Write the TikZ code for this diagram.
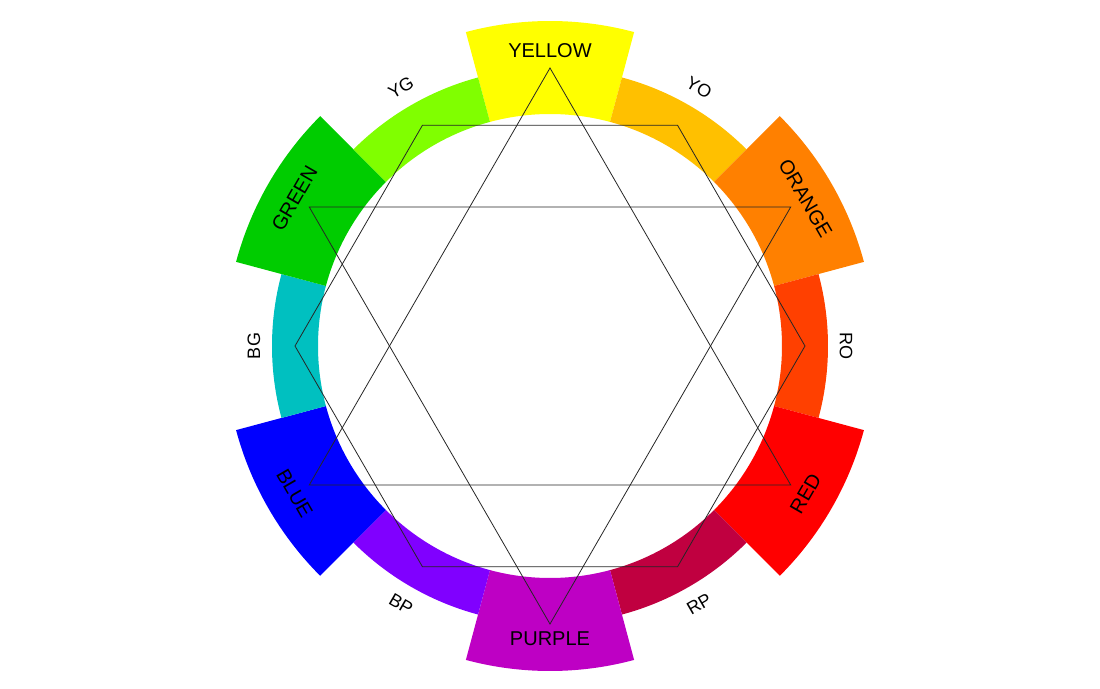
\documentclass[tikz,border=0pt]{standalone}
\usepackage{fontspec}
\setmainfont{Liberation Sans}
\definecolor{cY}{HTML}{FFFF00}
\definecolor{cYO}{HTML}{FFC000}
\definecolor{cO}{HTML}{FF8000}
\definecolor{cRO}{HTML}{FF4000}
\definecolor{cR}{HTML}{FF0000}
\definecolor{cRP}{HTML}{C00040}
\definecolor{cP}{HTML}{BE00C4}
\definecolor{cBP}{HTML}{8000FF}
\definecolor{cB}{HTML}{0000FF}
\definecolor{cBG}{HTML}{00C0C0}
\definecolor{cG}{HTML}{00CC00}
\definecolor{cYG}{HTML}{80FF00}
\begin{document}
\begin{tikzpicture}[x=1pt,y=1pt,
  biglabel/.style={inner sep=0pt, font=\fontsize{20}{24}\selectfont},
  smalllabel/.style={inner sep=0pt, font=\fontsize{18}{22}\selectfont},
  starline/.style={draw=black!85, line width=0.8pt, line join=miter}]
\useasboundingbox (-550,-342) rectangle (550,346);
\def\rin{232}
\foreach \a/\r/\c [evaluate=\a as \s using \a-15, evaluate=\a as \e using \a+15] in
  {90/325/cY, 60/278/cYO, 30/325/cO, 0/278/cRO, -30/325/cR, -60/278/cRP,
   -90/325/cP, -120/278/cBP, -150/325/cB, 180/278/cBG, 150/325/cG, 120/278/cYG}
  \fill[\c] (\s:\rin) -- (\s:\r) arc[start angle=\s, end angle=\e, radius=\r]
     -- (\e:\rin) arc[start angle=\e, end angle=\s, radius=\rin] -- cycle;
% star of David vertices
\coordinate (t90) at (90:278);
\coordinate (t210) at (210:278);
\coordinate (t330) at (330:278);
\coordinate (t30) at (30:278);
\coordinate (t150) at (150:278);
\coordinate (t270) at (270:278);
% hexagon vertices
\coordinate (h0) at (0:255);
\coordinate (h60) at (60:255);
\coordinate (h120) at (120:255);
\coordinate (h180) at (180:255);
\coordinate (h240) at (240:255);
\coordinate (h300) at (300:255);
\draw[starline] (t90) -- (t210) -- (t330) -- cycle;
\draw[starline] (t30) -- (t150) -- (t270) -- cycle;
\draw[starline] (h0) -- (h60) -- (h120) -- (h180) -- (h240) -- (h300) -- cycle;
% labels
\node[biglabel] (lY) at (90:295) {YELLOW};
\node[biglabel, rotate=-60] (lO) at (30:295) {ORANGE};
\node[biglabel, rotate=60] (lR) at (-30:295) {RED};
\node[biglabel] (lP) at (-90:293) {PURPLE};
\node[biglabel, rotate=-60] (lB) at (-150:295) {BLUE};
\node[biglabel, rotate=60] (lG) at (150:295) {GREEN};
\node[smalllabel, rotate=-30] (lYO) at (60:298) {YO};
\node[smalllabel, rotate=-90] (lRO) at (0:296) {RO};
\node[smalllabel, rotate=30] (lRP) at (-60:298) {RP};
\node[smalllabel, rotate=-30] (lBP) at (-120:298) {BP};
\node[smalllabel, rotate=90] (lBG) at (180:296) {BG};
\node[smalllabel, rotate=30] (lYG) at (120:298) {YG};
\end{tikzpicture}
\end{document}
